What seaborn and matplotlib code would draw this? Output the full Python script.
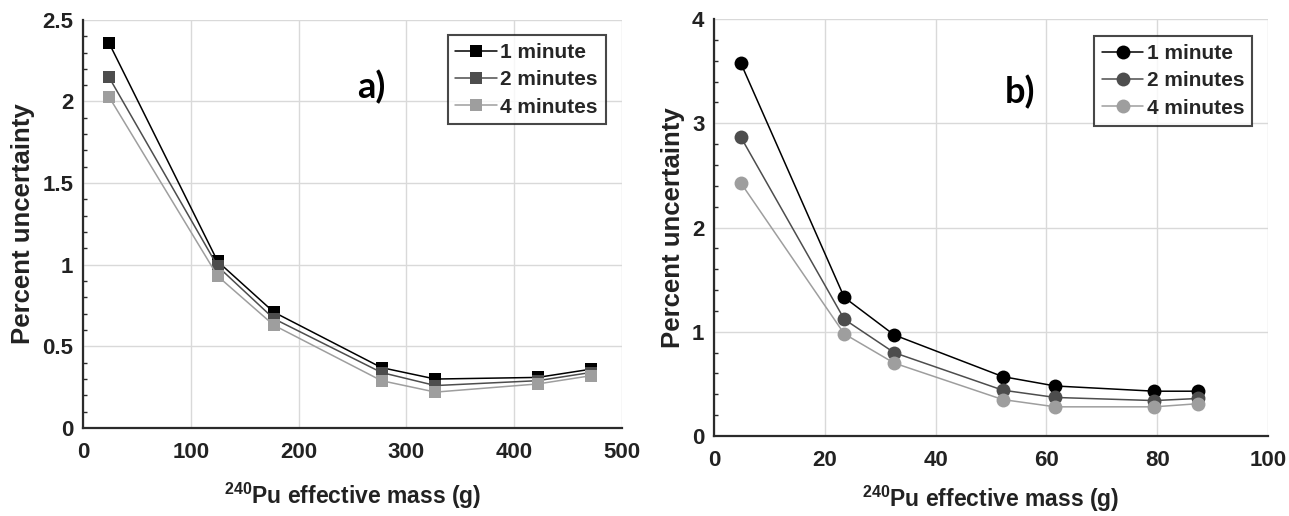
import numpy as np
import pandas as pd
import matplotlib
matplotlib.use("Agg")
import matplotlib.pyplot as plt
import seaborn as sns
from matplotlib.ticker import MultipleLocator

# ---------------- data ----------------
times = ["1 minute", "2 minutes", "4 minutes"]

a_mass = [24, 125, 177, 277, 327, 422, 471]
a_1min = [2.36, 1.02, 0.71, 0.37, 0.30, 0.31, 0.36]
a_2min = [2.15, 0.99, 0.67, 0.34, 0.26, 0.29, 0.34]
a_4min = [2.03, 0.93, 0.63, 0.29, 0.22, 0.27, 0.32]

b_mass = [4.8, 23.5, 32.5, 52.1, 61.6, 79.5, 87.3]
b_1min = [3.58, 1.33, 0.97, 0.57, 0.48, 0.43, 0.43]
b_2min = [2.87, 1.12, 0.80, 0.44, 0.37, 0.34, 0.36]
b_4min = [2.43, 0.98, 0.70, 0.35, 0.28, 0.28, 0.31]

a_xticks = [0, 100, 200, 300, 400, 500]
a_yticks = [0, 0.5, 1, 1.5, 2, 2.5]
b_xticks = [0, 20, 40, 60, 80, 100]
b_yticks = [0, 1, 2, 3, 4]

palette = ["#000000", "#4d4d4d", "#9e9e9e"]

# ---------------- style ----------------
sns.set_theme(style="white")
FONT = "Liberation Sans"
FS_TICK, FS_XLABEL, FS_YLABEL, FS_LEG = 16, 16.5, 18.5, 15

plt.rcParams["font.family"] = [FONT, "DejaVu Sans"]
plt.rcParams["font.weight"] = "bold"
plt.rcParams["axes.labelweight"] = "bold"
plt.rcParams["mathtext.fontset"] = "custom"
plt.rcParams["mathtext.rm"] = FONT + ":bold"
plt.rcParams["mathtext.bf"] = FONT + ":bold"
plt.rcParams["mathtext.it"] = FONT + ":bold"
plt.rcParams["mathtext.default"] = "rm"


def long_df(mass, s1, s2, s3):
    frames = []
    for t, s in zip(times, [s1, s2, s3]):
        frames.append(pd.DataFrame({"mass": mass, "unc": s, "time": t}))
    return pd.concat(frames, ignore_index=True)


df_a = long_df(a_mass, a_1min, a_2min, a_4min)
df_b = long_df(b_mass, b_1min, b_2min, b_4min)

fig = plt.figure(figsize=(12.89, 5.16), dpi=100)
ax_a = fig.add_axes([0.0644, 0.1705, 0.418, 0.791])
ax_b = fig.add_axes([0.554, 0.155, 0.4297, 0.808])


def style_axes(ax, xticks, yticks, yminor, xlim, ylim, xlabelpad):
    ax.set_xlim(*xlim)
    ax.set_ylim(*ylim)
    ax.set_xticks(xticks)
    ax.set_yticks(yticks)
    ax.set_xticklabels([str(v) for v in xticks])
    ax.set_yticklabels([("%g" % v) for v in yticks])
    ax.yaxis.set_minor_locator(MultipleLocator(yminor))
    ax.grid(True, which="major", color="#d9d9d9", linewidth=1.0)
    ax.set_axisbelow(True)
    for sp in ["top", "right"]:
        ax.spines[sp].set_visible(False)
    for sp in ["left", "bottom"]:
        ax.spines[sp].set_color("#2b2b2b")
        ax.spines[sp].set_linewidth(1.6)
    ax.tick_params(axis="both", which="major", direction="in", length=5,
                   width=1.2, color="#2b2b2b", labelsize=FS_TICK,
                   labelcolor="#222222")
    ax.tick_params(axis="x", which="major", pad=10)
    ax.tick_params(axis="y", which="major", pad=7)
    ax.tick_params(axis="y", which="minor", direction="in", length=3,
                   width=1.0, color="#2b2b2b", left=True)
    for lab in ax.get_xticklabels() + ax.get_yticklabels():
        lab.set_fontweight("bold")
    ax.set_ylabel("Percent uncertainty", fontsize=FS_YLABEL, fontweight="bold",
                  color="#222222", labelpad=5)
    ax.set_xlabel(r"$^{240}$Pu effective mass (g)", fontsize=FS_XLABEL,
                  fontweight="bold", color="#222222", labelpad=xlabelpad)


def style_legend(ax, anchor):
    leg = ax.legend(loc="upper right", bbox_to_anchor=anchor,
                    borderaxespad=0, frameon=True, fancybox=False,
                    handlelength=2.0, handletextpad=0.15,
                    labelspacing=0.4, borderpad=0.38,
                    prop={"family": [FONT, "DejaVu Sans"], "weight": "bold",
                          "size": FS_LEG})
    leg.get_frame().set_edgecolor("#1a1a1a")
    leg.get_frame().set_linewidth(1.5)
    return leg


# panel a
sns.lineplot(data=df_a, x="mass", y="unc", hue="time", palette=palette,
             marker="s", markersize=9, markeredgewidth=0, linewidth=1.1,
             ax=ax_a, legend=True)
style_axes(ax_a, a_xticks, a_yticks, 0.1, (0, 500), (0, 2.5), 13)
style_legend(ax_a, (0.970, 0.963))
ax_a.text(0.536, 0.836, "a)", transform=ax_a.transAxes, fontsize=26,
          fontweight="bold", family=["Lato", "DejaVu Sans"],
          ha="center", va="center", color="#000000")

# panel b
sns.lineplot(data=df_b, x="mass", y="unc", hue="time", palette=palette,
             marker="o", markersize=10, markeredgewidth=0, linewidth=1.1,
             ax=ax_b, legend=True)
style_axes(ax_b, b_xticks, b_yticks, 0.2, (0, 100), (0, 4), 9)
style_legend(ax_b, (0.971, 0.959))
ax_b.text(0.552, 0.825, "b)", transform=ax_b.transAxes, fontsize=26,
          fontweight="bold", family=["Lato", "DejaVu Sans"],
          ha="center", va="center", color="#000000")

fig.savefig("out.png", dpi=100)
